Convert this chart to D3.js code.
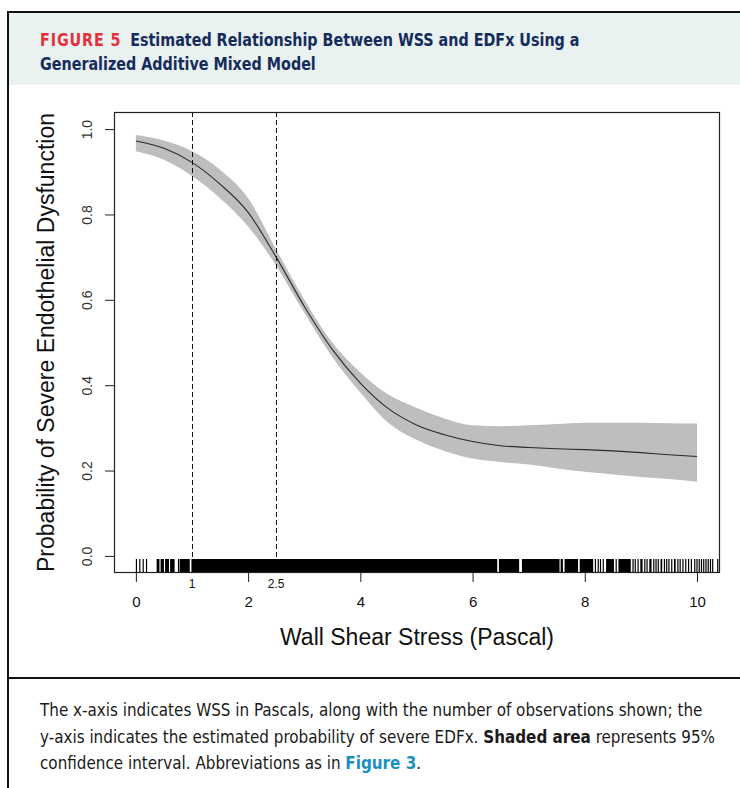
<!DOCTYPE html>
<html>
<head>
<meta charset="utf-8">
<script src="https://cdn.jsdelivr.net/npm/d3@7"></script>
<style>
  body { margin: 0; background: #fff; }
  svg { display: block; }
  .narrow { font-family: "Liberation Sans Narrow", "DejaVu Sans Condensed", "Roboto Condensed", "Open Sans", sans-serif; }
  .plot text { font-family: "Liberation Sans", Arial, sans-serif; fill: #111; }
</style>
</head>
<body>
<script>
// smooth estimate from the GAMM
var wss   = [0, 0.5, 1, 1.5, 2, 2.5, 3, 3.5, 4, 4.5, 5, 5.5, 6, 6.5, 7, 7.5, 8, 8.5, 9, 9.5, 10];
var fit   = [0.972, 0.955, 0.922, 0.871, 0.805, 0.700, 0.585, 0.484, 0.405, 0.345, 0.307, 0.284, 0.268, 0.258, 0.254, 0.251, 0.249, 0.246, 0.242, 0.237, 0.233];
var upper = [0.986, 0.973, 0.948, 0.905, 0.838, 0.718, 0.601, 0.500, 0.430, 0.378, 0.347, 0.322, 0.306, 0.304, 0.306, 0.309, 0.312, 0.312, 0.312, 0.311, 0.310];
var lower = [0.948, 0.928, 0.890, 0.838, 0.772, 0.680, 0.570, 0.466, 0.383, 0.312, 0.272, 0.246, 0.228, 0.220, 0.214, 0.205, 0.197, 0.191, 0.185, 0.180, 0.174];

// rug of observed WSS values: single marks and stretches where marks merge
var rugTicks = [0.01, 0.07, 0.13, 0.19, 0.76, 8.19, 8.24, 8.28, 8.33, 8.56, 8.86, 8.90, 8.95,
  9.07, 9.11, 9.23, 9.27, 9.31, 9.42, 9.46, 9.50, 9.55, 9.66, 9.70, 9.75, 9.80, 9.85, 9.90,
  9.96, 10.00, 10.04, 10.08, 10.12, 10.16, 10.20, 10.24, 10.28, 10.37];
var rugSpans = [[0.37, 0.42], [0.44, 0.50], [0.52, 0.59], [0.61, 0.69], [0.78, 0.96], [0.99, 6.44],
  [6.47, 6.83], [6.88, 7.55], [7.57, 7.61], [7.64, 7.88], [7.91, 8.15], [8.38, 8.52], [8.60, 8.82],
  [8.99, 9.03], [9.15, 9.19], [9.35, 9.38], [9.59, 9.62]];

var cutoffs = [1, 2.5];
var xTicks = [0, 2, 4, 6, 8, 10];
var yTicks = [0, 0.2, 0.4, 0.6, 0.8, 1.0];

var width = 740;
var height = 788;

var svg = d3.select('body')
  .append('svg')
  .attr('width', width)
  .attr('height', height);

// figure frame
svg.append('rect')
  .attr('x', 9)
  .attr('y', 13)
  .attr('width', width - 9)
  .attr('height', 72)
  .attr('fill', '#e9f1f1');

svg.append('path')
  .attr('d', 'M8,788V12H740')
  .attr('fill', 'none')
  .attr('stroke', '#111')
  .attr('stroke-width', 2);

svg.append('line')
  .attr('x1', 8).attr('x2', width)
  .attr('y1', 678).attr('y2', 678)
  .attr('stroke', '#111')
  .attr('stroke-width', 2);

// title, set a bit taller and squeezed to the width of the original line
var title = svg.append('g')
  .attr('class', 'narrow')
  .style('font-weight', 'bold')
  .style('font-size', '18px');

var t1 = title.append('text')
  .attr('y', 46);
t1.append('tspan')
  .attr('fill', '#e3303b')
  .style('letter-spacing', '1px')
  .text('FIGURE 5');
t1.append('tspan')
  .attr('fill', '#152c5b')
  .attr('dx', 10)
  .text('Estimated Relationship Between WSS and EDFx Using a');

var t2 = title.append('text')
  .attr('y', 70)
  .attr('fill', '#152c5b')
  .text('Generalized Additive Mixed Model');

var squeeze = 531 / t1.node().getComputedTextLength();
title.attr('transform', 'translate(40,0) scale(' + squeeze + ',1)');

// plot
var x = d3.scaleLinear().domain([-0.39, 10.41]).range([114, 720]);
var y = d3.scaleLinear().domain([-0.04, 1.04]).range([573, 112]);

var rows = wss.map(function(w, i) {
  return { w: w, fit: fit[i], lo: lower[i], hi: upper[i] };
});

var plot = svg.append('g').attr('class', 'plot');

var band = d3.area()
  .curve(d3.curveMonotoneX)
  .x(function(d) { return x(d.w); })
  .y0(function(d) { return y(d.lo); })
  .y1(function(d) { return y(d.hi); });

var line = d3.line()
  .curve(d3.curveMonotoneX)
  .x(function(d) { return x(d.w); })
  .y(function(d) { return y(d.fit); });

plot.append('path')
  .datum(rows)
  .attr('d', band)
  .attr('fill', '#bebebe');

plot.append('path')
  .datum(rows)
  .attr('d', line)
  .attr('fill', 'none')
  .attr('stroke', '#2a2a2a')
  .attr('stroke-width', 1.1);

plot.selectAll('.cutoff')
  .data(cutoffs)
  .enter()
  .append('line')
  .attr('class', 'cutoff')
  .attr('x1', function(d) { return Math.round(x(d)) + 0.5; })
  .attr('x2', function(d) { return Math.round(x(d)) + 0.5; })
  .attr('y1', y.range()[1])
  .attr('y2', y.range()[0])
  .attr('stroke', '#111')
  .attr('stroke-dasharray', '5,3');

// rug
var rugTop = y.range()[0] - 14;

plot.selectAll('.rug-span')
  .data(rugSpans)
  .enter()
  .append('rect')
  .attr('class', 'rug-span')
  .attr('x', function(d) { return x(d[0]); })
  .attr('width', function(d) { return x(d[1]) - x(d[0]); })
  .attr('y', rugTop)
  .attr('height', 14)
  .attr('fill', '#000');

plot.selectAll('.rug-tick')
  .data(rugTicks)
  .enter()
  .append('line')
  .attr('class', 'rug-tick')
  .attr('x1', function(d) { return x(d); })
  .attr('x2', function(d) { return x(d); })
  .attr('y1', rugTop)
  .attr('y2', y.range()[0])
  .attr('stroke', '#000')
  .attr('stroke-width', 1.2);

// box
plot.append('rect')
  .attr('x', 114.5)
  .attr('y', 112.5)
  .attr('width', 605)
  .attr('height', 460)
  .attr('fill', 'none')
  .attr('stroke', '#222')
  .attr('stroke-width', 1.2);

// axes
var xAxis = plot.append('g')
  .attr('transform', 'translate(0,' + y.range()[0] + ')')
  .call(d3.axisBottom(x)
    .tickValues(xTicks)
    .tickSize(9)
    .tickPadding(14)
    .tickFormat(d3.format('d')));

xAxis.select('.domain').remove();
xAxis.selectAll('line').attr('stroke', '#222');
xAxis.selectAll('text').style('font-size', '15px');

plot.selectAll('.cut-label')
  .data(cutoffs)
  .enter()
  .append('text')
  .attr('class', 'cut-label')
  .attr('x', function(d) { return x(d); })
  .attr('y', y.range()[0] + 15)
  .attr('text-anchor', 'middle')
  .style('font-size', '12px')
  .text(function(d) { return d; });

var yAxis = plot.append('g')
  .attr('transform', 'translate(' + x.range()[0] + ',0)')
  .call(d3.axisLeft(y)
    .tickValues(yTicks)
    .tickSize(9)
    .tickFormat(d3.format('.1f')));

yAxis.select('.domain').remove();
yAxis.selectAll('line').attr('stroke', '#222');
yAxis.selectAll('text')
  .attr('transform', 'rotate(-90)')
  .attr('x', 0)
  .attr('y', -22)
  .attr('dy', 0)
  .attr('text-anchor', 'middle')
  .style('font-size', '14px')
  .style('fill', '#333');

plot.append('text')
  .attr('transform', 'translate(54,342.5) rotate(-90)')
  .attr('text-anchor', 'middle')
  .style('font-size', '23px')
  .text('Probability of Severe Endothelial Dysfunction');

plot.append('text')
  .attr('x', (x.range()[0] + x.range()[1]) / 2)
  .attr('y', 645)
  .attr('text-anchor', 'middle')
  .style('font-size', '23px')
  .text('Wall Shear Stress (Pascal)');

// caption
var caption = svg.append('g')
  .attr('class', 'narrow')
  .attr('fill', '#1a1a1a');

var c1 = caption.append('text')
  .attr('x', 40)
  .attr('y', 716)
  .style('font-size', '16px')
  .text('The x-axis indicates WSS in Pascals, along with the number of observations shown; the');

var c2 = caption.append('text')
  .attr('x', 40)
  .attr('y', 743)
  .style('font-size', '16px');
c2.append('tspan').text('y-axis indicates the estimated probability of severe EDFx. ');
c2.append('tspan').style('font-weight', 'bold').text('Shaded area');
c2.append('tspan').text(' represents 95%');

var c3 = caption.append('text')
  .attr('x', 40)
  .attr('y', 769)
  .style('font-size', '16px');
c3.append('tspan').text('confidence interval. Abbreviations as in ');
c3.append('tspan').style('font-weight', 'bold').attr('fill', '#1c8fc0').text('Figure 3');
c3.append('tspan').text('.');

var capSize = 16 * 663 / c1.node().getComputedTextLength();
[c1, c2, c3].forEach(function(t) { t.style('font-size', capSize + 'px'); });
</script>
</body>
</html>
